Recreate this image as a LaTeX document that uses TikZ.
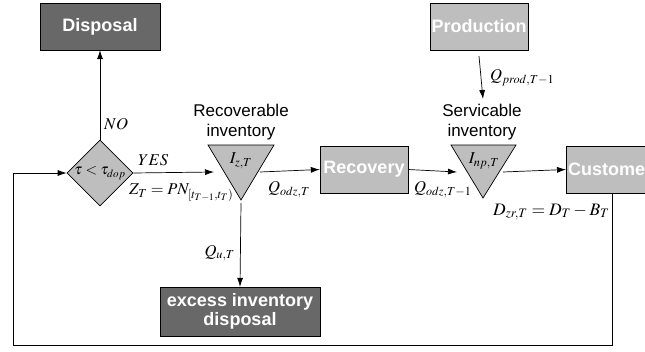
\documentclass[tikz,border=0pt]{standalone}
\usepackage{mathptmx}
\usepackage[no-math]{fontspec}
\setmainfont{Liberation Sans}
\usetikzlibrary{shapes.geometric,arrows.meta}
\definecolor{darkbox}{RGB}{104,104,104}
\definecolor{lightbox}{RGB}{190,190,190}
\tikzset{
  darkstep/.style={draw=black, fill=darkbox, text=white, font=\fontsize{18}{20}\selectfont\bfseries, inner sep=0pt, align=center},
  lightstep/.style={draw=black, fill=lightbox, text=white, font=\fontsize{18}{20}\selectfont\bfseries, inner sep=0pt, align=center},
  flow/.style={-{Latex[length=9pt,width=6pt]}, line width=0.7pt},
  lbl/.style={inner sep=0pt, font=\fontsize{16.5}{18}\selectfont},
  caption/.style={inner sep=0pt, align=center, font=\fontsize{17}{20}\selectfont},
}
\begin{document}
\begin{tikzpicture}[x=1pt,y=-1pt]
\useasboundingbox (0,0) rectangle (645,351);
\clip (0,0) rectangle (645,351);
% boxes
\node[darkstep, minimum width=120pt, minimum height=47pt] (disp) at (100,26.5) {Disposal};
\node[lightstep, minimum width=98pt, minimum height=47pt] (prod) at (479,26.5) {Production};
\node[lightstep, minimum width=88pt, minimum height=47pt] (rec) at (364,169.5) {Recovery};
\node[lightstep, minimum width=100pt, minimum height=47pt, anchor=west] (cust) at (566,169.5) {};
\node[inner sep=0pt, anchor=west, text=white, font=\fontsize{18}{20}\selectfont\bfseries] (custtext) at (568,169.5) {Customer};
\node[darkstep, minimum width=160pt, minimum height=49pt] (exc) at (240,311.5) {excess inventory\\[-1pt]disposal};
% diamond
\node[draw=black, fill=lightbox, shape=diamond, minimum width=66pt, minimum height=66pt, inner sep=0pt, line width=0.7pt, font=\fontsize{15}{17}\selectfont] (dia) at (100,173) {\makebox[36pt]{$\tau < \tau_{dop}$}};
% triangles
\draw[fill=lightbox, line width=0.7pt] (208,145) -- (274,145) -- (241,200) -- cycle;
\coordinate (t1in) at (214,172);
\coordinate (t1out) at (260,172);
\coordinate (t1bot) at (241,203);
\node[lbl] (t1text) at (241,161) {$I_{z,T}$};
\draw[fill=lightbox, line width=0.7pt] (451,145) -- (516,145) -- (483,198) -- cycle;
\coordinate (t2in) at (457,172);
\coordinate (t2out) at (503,172);
\coordinate (t2top) at (483,99);
\node[lbl] (t2text) at (484,161) {$I_{np,T}$};
% captions
\node[caption] (cap1) at (241,122) {Recoverable\\inventory};
\node[caption] (cap2) at (482,122) {Servicable\\inventory};
% connectors
\draw[flow] (dia.north) -- (disp.south);
\node[lbl, anchor=west] (no) at (104,124) {$NO$};
\draw[flow] (dia.east) -- (t1in);
\node[lbl, anchor=west] (yes) at (138,160) {$YES$};
\node[lbl, anchor=west] (zt) at (129,193) {$Z_T = PN_{[t_{T-1},t_T)}$};
\draw[flow] (t1out) -- (rec.west);
\node[lbl, anchor=west] (qodz) at (268,190) {$Q_{odz,T}$};
\draw[flow] (t1bot) -- (exc.north);
\node[lbl, anchor=east] (qu) at (235,253) {$Q_{u,T}$};
\draw[flow] (rec.east) -- (t2in);
\node[lbl, anchor=west] (qodz2) at (414,190) {$Q_{odz,T-1}$};
\draw[flow] (t2out) -- (cust.west);
\node[inner sep=0pt, anchor=west, font=\fontsize{17.5}{19}\selectfont] (dzr) at (493,212) {$D_{zr,T} = D_T - B_T$};
\draw[flow] (prod.south) ++(0,6) -- (t2top);
\node[lbl, anchor=west] (qprod) at (490,78) {$Q_{prod,T-1}$};
% feedback loop
\coordinate (fb1) at (612,345);
\coordinate (fb2) at (13,345);
\coordinate (fb3) at (13,173);
\draw[flow] (cust.south -| fb1) -- (fb1) -- (fb2) -- (fb3) -- (dia.west);
\end{tikzpicture}
\end{document}
